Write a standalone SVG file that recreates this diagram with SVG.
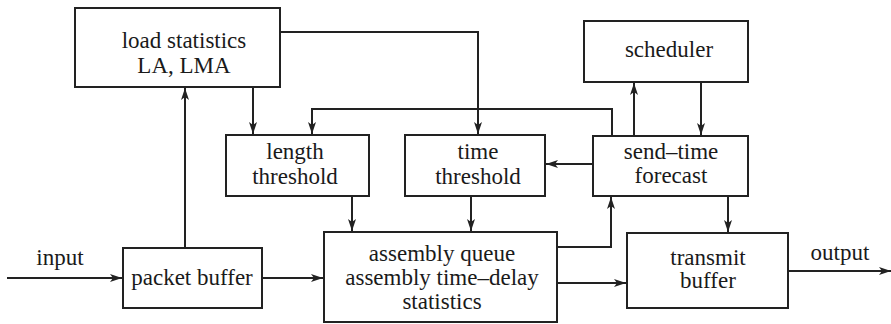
<svg xmlns="http://www.w3.org/2000/svg" width="891" height="324" viewBox="0 0 891 324">
<defs>
<style>
.box{fill:#fff;stroke:#222;stroke-width:2}
.ln{fill:none;stroke:#222;stroke-width:2}
.arr{marker-end:url(#ah)}
text{font-family:"Liberation Serif","Times New Roman",serif;font-size:23px;fill:#1a1a1a;text-anchor:middle}
</style>
<marker id="ah" markerWidth="12" markerHeight="8" viewBox="0 0 12 8" refX="12" refY="4" orient="auto" markerUnits="userSpaceOnUse">
<path d="M0,0 L12,4 L0,8 L3,4 z" fill="#222"/>
</marker>
</defs>
<rect width="891" height="324" fill="#fff"/>
<g id="connectors">
<path class="ln arr" d="M7,278 H122"/>
<path class="ln arr" d="M185,248 V88"/>
<path class="ln arr" d="M253,87 V134"/>
<path class="ln arr" d="M280,32 H478 V134"/>
<path class="ln arr" d="M612,136 V109 H312 V134"/>
<path class="ln arr" d="M634,136 V83"/>
<path class="ln arr" d="M701,82 V135"/>
<path class="ln arr" d="M593,164 H546"/>
<path class="ln arr" d="M262,278 H323"/>
<path class="ln arr" d="M352,196 V231"/>
<path class="ln arr" d="M471,196 V231"/>
<path class="ln arr" d="M557,247 H611 V197"/>
<path class="ln arr" d="M728,196 V232"/>
<path class="ln arr" d="M557,283 H626"/>
<path class="ln arr" d="M788,271 H891"/>
</g>
<g id="load-statistics">
<rect class="box" x="75" y="8" width="205" height="79"/>
<text x="184" y="48">load statistics</text>
<text x="184" y="73">LA, LMA</text>
</g>
<g id="scheduler">
<rect class="box" x="584" y="21" width="164" height="61"/>
<text x="669" y="57">scheduler</text>
</g>
<g id="length-threshold">
<rect class="box" x="226" y="135" width="143" height="61"/>
<text x="295" y="159">length</text>
<text x="295" y="184">threshold</text>
</g>
<g id="time-threshold">
<rect class="box" x="405" y="135" width="140" height="61"/>
<text x="478" y="159">time</text>
<text x="478" y="184">threshold</text>
</g>
<g id="send-time-forecast">
<rect class="box" x="593" y="136" width="155" height="60"/>
<text x="671" y="159">send–time</text>
<text x="671" y="183">forecast</text>
</g>
<g id="packet-buffer">
<rect class="box" x="123" y="248" width="139" height="60"/>
<text x="192" y="285">packet buffer</text>
</g>
<g id="assembly-queue">
<rect class="box" x="324" y="232" width="233" height="90"/>
<text x="442" y="261">assembly queue</text>
<text x="442" y="285">assembly time–delay</text>
<text x="442" y="309">statistics</text>
</g>
<g id="transmit-buffer">
<rect class="box" x="627" y="233" width="161" height="75"/>
<text x="708" y="265">transmit</text>
<text x="708" y="288">buffer</text>
</g>
<g id="labels">
<text x="60" y="265">input</text>
<text x="840" y="260">output</text>
</g>
</svg>
